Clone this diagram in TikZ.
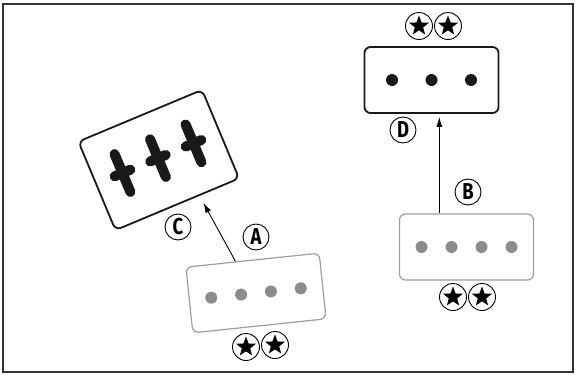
\documentclass[tikz,border=0pt]{standalone}
\usepackage{fontspec}
\newfontfamily\labelfont[FakeStretch=0.8]{Fira Sans}
\usetikzlibrary{arrows.meta,shapes.geometric}
\tikzset{>={Latex[width=6pt,length=10pt]}}
\tikzset{
  darkbox/.style={draw=black!90, line width=1.8pt, rounded corners=6pt,
    minimum width=134pt, minimum height=66pt, inner sep=0pt},
  greybox/.style={draw=black!38, line width=1.2pt, rounded corners=6pt,
    minimum width=134pt, minimum height=66pt, inner sep=0pt},
  greydot/.style={circle, fill=black!45, minimum size=12pt, inner sep=0pt},
  blackdot/.style={greydot, fill=black!90},
  crossline/.style={line width=10pt, line cap=round, black!90},
  letterbadge/.style={circle, draw, line width=0.9pt, minimum size=26pt, inner sep=0pt,
    font=\labelfont\bfseries\fontsize{23}{23}\selectfont},
  starbadge/.style={circle, draw, line width=0.9pt, minimum size=27pt, inner sep=0pt,
    path picture={\node[star, star points=5, star point ratio=2.4, fill=black,
      inner sep=0pt, minimum size=21pt] at (path picture bounding box.center) {};}},
}

\begin{document}
\begin{tikzpicture}[x=1pt, y=-1pt]

  \useasboundingbox (0,0) rectangle (576,375);
  \draw[line width=1.4pt, black!80] (3,4) rectangle (573,372);

  % the four boxes
  \node[darkbox, minimum height=96pt, rotate=22.7] (boxC) at (158.75,160) {};
  \node[darkbox] (boxD) at (431.5,80) {};
  \node[greybox, rotate=6] (boxA) at (256,293) {};
  \node[greybox] (boxB) at (466.5,247) {};

  % their contents
  \begin{scope}[shift={(boxC.center)}, rotate=22.7]
    \foreach \i in {-1,0,1} {
      \draw[crossline] (\i*38.5,-22.5) -- (\i*38.5,18.5);
      \draw[crossline] (\i*38.5-8.5,-2) -- (\i*38.5+8.5,-2);
    }
  \end{scope}
  \begin{scope}[shift={(boxD.center)}]
    \foreach \i in {-1,0,1}
      \node[blackdot] (dotD\i) at (\i*39.5,0) {};
  \end{scope}
  \begin{scope}[shift={(boxA.center)}, rotate=6]
    \foreach \i in {-1.5,-0.5,0.5,1.5}
      \node[greydot] at (\i*30,0) {};
  \end{scope}
  \begin{scope}[shift={(boxB.center)}]
    \foreach \i in {-1.5,-0.5,0.5,1.5}
      \node[greydot] at (\i*30,0) {};
  \end{scope}

  % arrows
  \draw[->, line width=0.9pt, shorten >=8pt] (boxA.117) -- (boxC.296);
  \draw[->, line width=0.9pt, shorten >=3pt] (boxB.129) -- (boxB.129 |- boxD.south);

  % letters
  \node[letterbadge] (labA) at (256,237) {A};
  \node[letterbadge] (labB) at (468,192) {B};
  \node[letterbadge] (labC) at (178,227) {C};
  \node[letterbadge] (labD) at (403,130) {D};

  % stars
  \node[starbadge] (starD1) at (419,26) {};
  \node[starbadge] (starD2) at (448,26) {};
  \node[starbadge] (starB1) at (453,297) {};
  \node[starbadge] (starB2) at (482,297) {};
  \node[starbadge] (starA1) at (246,347) {};
  \node[starbadge] (starA2) at (275,345) {};

\end{tikzpicture}
\end{document}
